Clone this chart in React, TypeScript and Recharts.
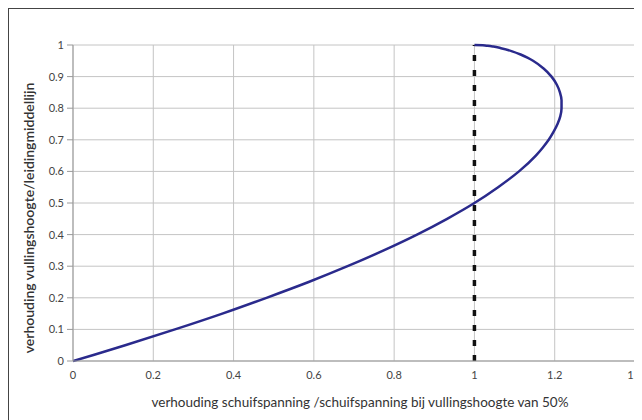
import { LineChart, Line, XAxis, YAxis, CartesianGrid, Label } from 'recharts';

// vullingshoogte / leidingmiddellijn
const fillLevel = [
  0, 0.02, 0.05, 0.1, 0.15, 0.2, 0.25, 0.3, 0.35, 0.4, 0.45, 0.5, 0.55, 0.6, 0.65, 0.675, 0.7,
  0.725, 0.75, 0.775, 0.8, 0.825, 0.85, 0.875, 0.9, 0.925, 0.95, 0.96, 0.97, 0.98, 0.99, 0.995,
  0.9975, 0.999, 1
];
// schuifspanning / schuifspanning bij 50%
const shearRatio = [
  0, 0.053, 0.13, 0.254, 0.372, 0.482, 0.587, 0.684, 0.774, 0.857, 0.932, 1.0, 1.059, 1.111,
  1.153, 1.17, 1.185, 1.197, 1.207, 1.214, 1.217, 1.217, 1.213, 1.205, 1.192, 1.173, 1.146,
  1.132, 1.115, 1.094, 1.066, 1.047, 1.033, 1.021, 1.0
];

const refX = [1, 1];
const refY = [0, 1];

const xTicks = [0, 0.2, 0.4, 0.6, 0.8, 1, 1.2, 1.4];
const yTicks = [0, 0.1, 0.2, 0.3, 0.4, 0.5, 0.6, 0.7, 0.8, 0.9, 1];

const curveData = fillLevel.map((y, i) => ({ x: shearRatio[i], y }));
const refData = refX.map((x, i) => ({ x, y: refY[i] }));

const font = 'Lato, "Open Sans", sans-serif';
const tickStyle = { fontSize: 11, fill: '#444', fontFamily: font };

export default function App() {
  return (
    <div
      style={{
        width: 634,
        height: 412,
        boxSizing: 'border-box',
        borderLeft: '1px solid #444',
        borderTop: '1px solid #444',
        background: '#fff',
        overflow: 'hidden'
      }}
    >
      <LineChart width={653} height={411} margin={{ top: 36, right: 27, left: 0, bottom: 0 }}>
        <CartesianGrid stroke="#c4c4c4" strokeWidth={1} />
        <XAxis
          type="number"
          dataKey="x"
          domain={[0, 1.4]}
          ticks={xTicks}
          allowDataOverflow
          height={59}
          tickLine={false}
          tickSize={6}
          tickMargin={4}
          axisLine={{ stroke: '#999' }}
          tick={tickStyle}
        >
          <Label
            value="verhouding schuifspanning /schuifspanning bij vullingshoogte van 50%"
            position="insideBottom"
            offset={13}
            dx={6}
            style={{ fontSize: 13.5, fill: '#333', fontFamily: font }}
          />
        </XAxis>
        <YAxis
          type="number"
          dataKey="y"
          domain={[0, 1]}
          ticks={yTicks}
          width={64}
          tickSize={6}
          tickMargin={3}
          tickLine={{ stroke: '#999' }}
          axisLine={{ stroke: '#999' }}
          tick={tickStyle}
        >
          <Label
            content={({ viewBox }: any) => {
              const cx = viewBox.x + 19;
              const cy = viewBox.y + viewBox.height / 2 + 15;
              return (
                <text
                  x={cx}
                  y={cy}
                  transform={`rotate(-90 ${cx} ${cy})`}
                  textAnchor="middle"
                  dominantBaseline="central"
                  style={{ fontSize: 14, fill: '#333', fontFamily: font, fontWeight: 600 }}
                >
                  verhouding vullingshoogte/leidingmiddellijn
                </text>
              );
            }}
          />
        </YAxis>
        <Line
          data={refData}
          dataKey="y"
          type="linear"
          stroke="#111"
          strokeWidth={3.5}
          strokeDasharray="6 9"
          dot={false}
          activeDot={false}
          isAnimationActive={false}
        />
        <Line
          data={curveData}
          dataKey="y"
          type="monotoneY"
          stroke="#2a2a8c"
          strokeWidth={2.5}
          dot={false}
          activeDot={false}
          isAnimationActive={false}
        />
      </LineChart>
    </div>
  );
}
